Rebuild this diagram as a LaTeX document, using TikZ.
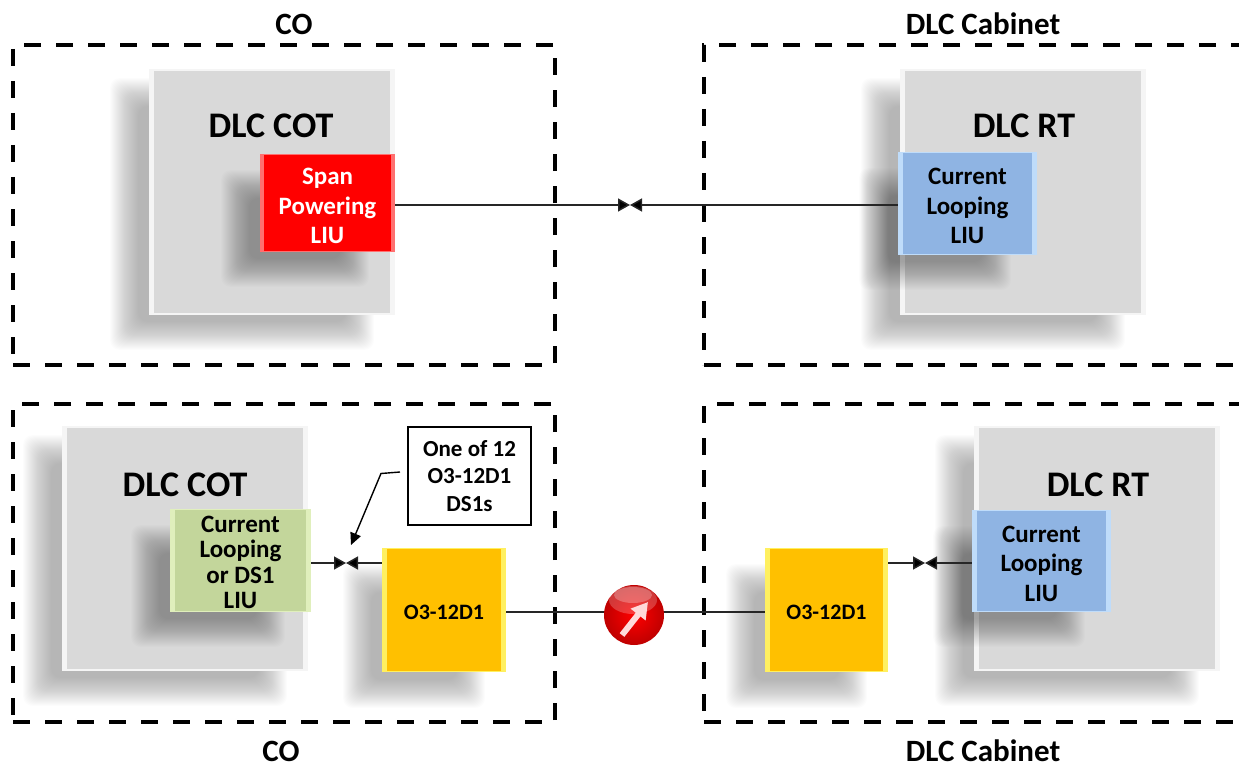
\documentclass[tikz,border=0pt]{standalone}
\usepackage{fontspec}
\setmainfont{Carlito}
\usetikzlibrary{arrows.meta,shapes.geometric}
\definecolor{greybox}{HTML}{D9D9D9}
\definecolor{redbox}{HTML}{FF0000}
\definecolor{rededge}{HTML}{FF7070}
\definecolor{bluebox}{HTML}{8FB4E3}
\definecolor{blueedge}{HTML}{BFDCFA}
\definecolor{greenbox}{HTML}{C3D69B}
\definecolor{greenedge}{HTML}{E0EFBC}
\definecolor{yellowbox}{HTML}{FFC000}
\definecolor{yellowedge}{HTML}{FFF060}
\tikzset{
  zone/.style={draw=black,line width=3.6pt,dash pattern=on 17pt off 15pt,inner sep=0pt,fill=none},
  zonelabel/.style={font=\bfseries\fontsize{31}{32}\selectfont,inner sep=0pt},
  unitlabel/.style={font=\bfseries\fontsize{36}{38}\selectfont,inner sep=0pt},
  cardtext/.style={font=\bfseries\fontsize{25}{29.5}\selectfont},
  greentext/.style={font=\bfseries\fontsize{25}{25.3}\selectfont,text=black},
  muxtext/.style={font=\bfseries\fontsize{22}{25}\selectfont,text=black},
  link/.style={draw=black!85,line width=1.5pt},
  tiplink/.style={link,-{Triangle[length=12pt,width=13pt,fill=black]}},
  callout/.style={draw=black,line width=1.3pt,fill=white,inner sep=0pt,align=center,
    font=\bfseries\fontsize{23}{27.3}\selectfont},
  bevelnode/.style={inner sep=0pt,align=center},
  cardstyle/.style={}
}
% soft shadow: x0 y0 x1 y1
\newcommand{\softshadow}[4]{%
  \foreach \k in {-14,-13,...,14}{%
    \fill[black,opacity=0.0125,rounded corners=10pt]
      ({#1+\k},{#2+\k}) rectangle ({#3-\k},{#4-\k});
  }%
}
% bevelled node: name x0 y0 x1 y1 main edge bevelx bevely
\newcommand{\bevelcard}[9]{%
  \node[bevelnode,fill=#7,minimum width={(#4-#2)*1pt},minimum height={(#5-#3)*1pt},
        path picture={
          \fill[#6] ([xshift=#8pt,yshift=#9pt]path picture bounding box.south west)
            rectangle ([xshift=-#8pt,yshift=-#9pt]path picture bounding box.north east);
        },cardstyle] (#1) at ({(#2+#4)/2},{(#3+#5)/2}) {\cardbody};%
}
\newcommand{\cardbody}{}
\begin{document}
\begin{tikzpicture}[x=1pt,y=-1pt]
\useasboundingbox (0,0) rectangle (1239,765);
\clip (0,0) rectangle (1239,765);

% zones
\node[zone,minimum width=542pt,minimum height=320pt] (zoneA) at (284,205) {};
\node[zone,minimum width=560pt,minimum height=320pt] (zoneB) at (984,205) {};
\node[zone,minimum width=542pt,minimum height=318pt] (zoneC) at (284,563) {};
\node[zone,minimum width=560pt,minimum height=318pt] (zoneD) at (984,563) {};

\node[zonelabel] (labA) at (294,24) {CO};
\node[zonelabel] (labB) at (983,24) {DLC Cabinet};
\node[zonelabel] (labC) at (281,751) {CO};
\node[zonelabel] (labD) at (983,751) {DLC Cabinet};

% unit shadows
\softshadow{124}{92}{360}{336}
\softshadow{875}{92}{1111}{336}
\softshadow{37}{449}{273}{692}
\softshadow{949}{449}{1185}{692}

% grey units
\renewcommand{\cardbody}{}
\bevelcard{unitA}{149}{69}{395}{315}{greybox}{white!96!black}{5}{2}
\bevelcard{unitB}{900}{69}{1146}{315}{greybox}{white!96!black}{5}{2}
\bevelcard{unitC}{62}{426}{308}{671}{greybox}{white!96!black}{5}{2}
\bevelcard{unitD}{974}{426}{1220}{671}{greybox}{white!96!black}{5}{2}

\node[unitlabel] (nameA) at (271,126) {DLC COT};
\node[unitlabel] (nameB) at (1024,126) {DLC RT};
\node[unitlabel] (nameC) at (185,485) {DLC COT};
\node[unitlabel] (nameD) at (1098,485) {DLC RT};

% card shadows
\softshadow{235}{184}{355}{273}
\softshadow{873}{182}{997}{276}
\softshadow{145}{539}{271}{633}
\softshadow{947}{540}{1071}{633}
\softshadow{357}{578}{471}{694}
\softshadow{740}{578}{853}{694}

% cards
\tikzset{cardstyle/.style={cardtext,text=white}}
\renewcommand{\cardbody}{\rule{0pt}{23pt}Span\\Powering\\LIU}
\bevelcard{span}{260}{154}{395}{252}{redbox}{rededge}{4}{1}
\tikzset{cardstyle/.style={cardtext,text=black}}
\renewcommand{\cardbody}{\rule{0pt}{22pt}Current\\Looping\\LIU}
\bevelcard{loopB}{898}{152}{1037}{255}{bluebox}{blueedge}{5}{1}
\bevelcard{loopD}{972}{510}{1111}{612}{bluebox}{blueedge}{5}{1}
\tikzset{cardstyle/.style={greentext}}
\renewcommand{\cardbody}{\rule{0pt}{20pt}Current\\Looping\\or DS1\\LIU}
\bevelcard{loopC}{170}{509}{311}{612}{greenbox}{greenedge}{5}{1}
\tikzset{cardstyle/.style={muxtext}}
\renewcommand{\cardbody}{\rule{0pt}{19pt}O3-12D1}
\bevelcard{muxC}{382}{548}{506}{672}{yellowbox}{yellowedge}{5}{1}
\bevelcard{muxD}{765}{548}{888}{672}{yellowbox}{yellowedge}{5}{1}

% connectors
\coordinate (meetTop) at (630,205);
\coordinate (meetC) at (346,563);
\coordinate (meetD) at (925,563);
\draw[tiplink] (span.east |- meetTop) -- (meetTop);
\draw[tiplink] (loopB.west |- meetTop) -- (meetTop);
\draw[tiplink] (loopC.east |- meetC) -- (meetC);
\draw[tiplink] (muxC.west |- meetC) -- (meetC);
\draw[tiplink] (muxD.east |- meetD) -- (meetD);
\draw[tiplink] (loopD.west |- meetD) -- (meetD);

% fibre with ball
\coordinate (fibre) at (634,612);
\draw[link] (muxC.east |- fibre) -- (muxD.west |- fibre);
\node[circle,minimum size=60pt,inner sep=0pt,draw=none,
      shade,inner color=red!100!black,outer color=red!75!black] (ball) at (634,615) {};
\fill[white,opacity=0.22] (633,600) ellipse [x radius=24pt,y radius=14pt];
\fill[white,opacity=0.25] (633,595) ellipse [x radius=19pt,y radius=8pt];
\coordinate (ballA) at (622,635);
\coordinate (ballB) at (648,602);
\draw[white!85!red,line width=6pt,-{Triangle[length=16pt,width=18pt]}] (ballA) -- (ballB);

% callout
\node[callout,minimum width=123pt,minimum height=98pt] (note) at (469.5,476) {One of 12\\O3-12D1\\DS1s};
\coordinate (noteStart) at (400,472);
\coordinate (noteBend) at (381,473.5);
\coordinate (noteTip) at (351,545);
\draw[black,line width=1.4pt,-{Triangle[length=12pt,width=11pt]}] (noteStart) -- (noteBend) -- (noteTip);
\end{tikzpicture}
\end{document}
